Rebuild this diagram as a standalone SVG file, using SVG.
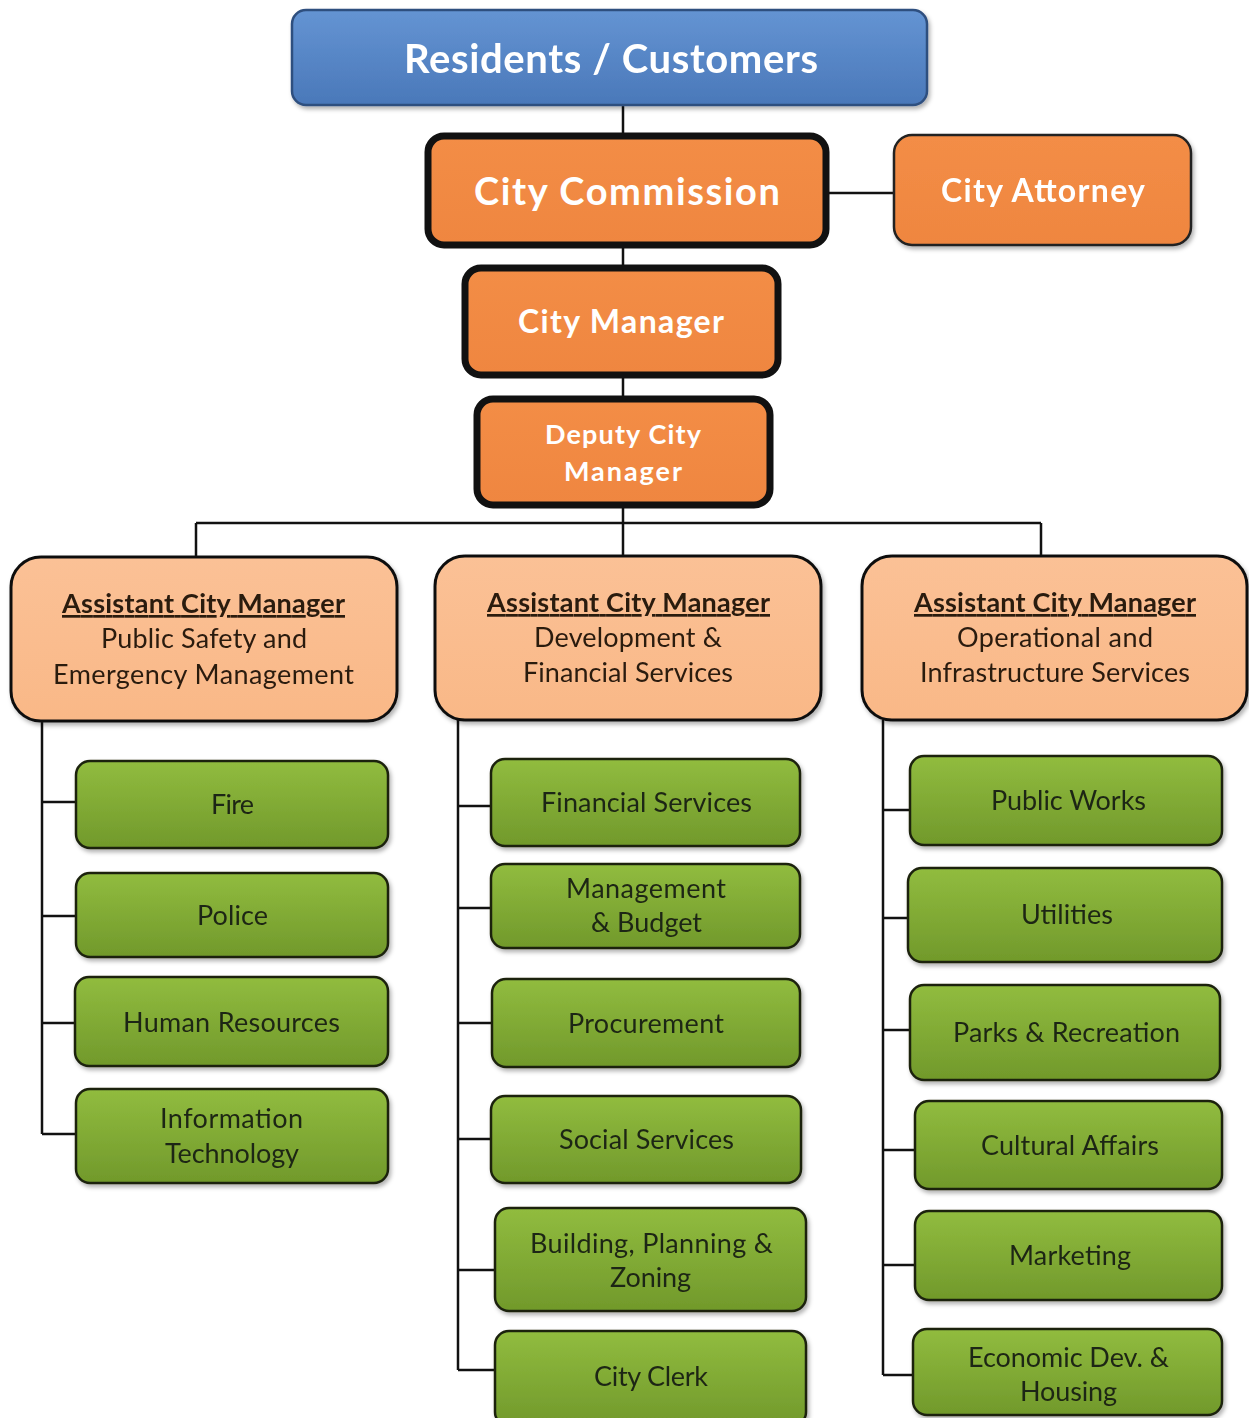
<svg xmlns="http://www.w3.org/2000/svg" width="1249" height="1418" viewBox="0 0 1249 1418">
<defs>
<linearGradient id="gBlue" x1="0" y1="0" x2="0" y2="1"><stop offset="0" stop-color="#6494d3"/><stop offset="1" stop-color="#4a78b9"/></linearGradient>
<linearGradient id="gOrange" x1="0" y1="0" x2="0" y2="1"><stop offset="0" stop-color="#f38d46"/><stop offset="1" stop-color="#ef8640"/></linearGradient>
<linearGradient id="gPeach" x1="0" y1="0" x2="0" y2="1"><stop offset="0" stop-color="#fbc196"/><stop offset="1" stop-color="#f9b887"/></linearGradient>
<linearGradient id="gGreen" x1="0" y1="0" x2="0" y2="1"><stop offset="0" stop-color="#91bc3f"/><stop offset="1" stop-color="#71992b"/></linearGradient>
<filter id="sh" x="-5%" y="-5%" width="115%" height="125%"><feDropShadow dx="2" dy="3" stdDeviation="2" flood-color="#000" flood-opacity="0.3"/></filter>
</defs>
<style>
.blue{fill:url(#gBlue);stroke:#2f4f7f;stroke-width:2.5}
.ob{fill:url(#gOrange);stroke:#111;stroke-width:7}
.ot{fill:url(#gOrange);stroke:#222;stroke-width:2.5}
.peach{fill:url(#gPeach);stroke:#111;stroke-width:3}
.green{fill:url(#gGreen);stroke:#1d2410;stroke-width:2.5}
.wt{font-family:Lato,"Open Sans",sans-serif;font-weight:bold;fill:#fff}
.hd{font-family:Lato,"Open Sans",sans-serif;font-weight:bold;fill:#2a1a10;font-size:27px;text-decoration:underline}
.pt{font-family:Lato,"Open Sans",sans-serif;fill:#2a1a10;font-size:27px}
.gt{font-family:Lato,"Open Sans",sans-serif;fill:#1f2612;font-size:27px}
.ln{fill:none;stroke:#111;stroke-width:2.5}
</style>
<rect width="1249" height="1418" fill="#fff"/>
<g id="connectors">
<path class="ln" d="M623 105V133M829 193H894M623 248V265M623 378V396M623 508V556M196 523H1041M196 523V558M1041 523V556"/>
<path class="ln" d="M42 721V1134M42 802H76M42 916H76M42 1023H76M42 1134H76"/>
<path class="ln" d="M458 720V1370M458 806H491M458 908H491M458 1023H491M458 1139H491M458 1270H495M458 1370H495"/>
<path class="ln" d="M883 720V1375M883 810H910M883 918H908M883 1030H910M883 1150H915M883 1265H915M883 1375H913"/>
</g>
<g id="residents" filter="url(#sh)"><rect class="blue" x="292" y="10" width="635" height="95" rx="14"/>
<text class="wt" x="404" y="73" font-size="40" textLength="414">Residents / Customers</text></g>
<g id="city-commission"><rect class="ob" x="428" y="136" width="398" height="109" rx="16"/>
<text class="wt" x="474" y="205" font-size="38" textLength="306">City Commission</text></g>
<g id="city-attorney" filter="url(#sh)"><rect class="ot" x="894" y="135" width="297" height="110" rx="18"/>
<text class="wt" x="941" y="202" font-size="32" textLength="204">City Attorney</text></g>
<g id="city-manager"><rect class="ob" x="465" y="268" width="313" height="107" rx="16"/>
<text class="wt" x="518" y="333" font-size="32" textLength="206">City Manager</text></g>
<g id="deputy-city-manager"><rect class="ob" x="477" y="399" width="293" height="106" rx="16"/>
<text class="wt" x="545" y="444" font-size="27" textLength="156">Deputy City</text>
<text class="wt" x="564" y="481" font-size="27" textLength="118">Manager</text></g>
<g id="acm-public-safety" filter="url(#sh)"><rect class="peach" x="11" y="557" width="386" height="164" rx="30"/>
<text class="hd" x="62" y="613" textLength="283">Assistant City Manager</text>
<text class="pt" x="101" y="648" textLength="206">Public Safety and</text>
<text class="pt" x="53" y="684" textLength="301">Emergency Management</text></g>
<g id="acm-development" filter="url(#sh)"><rect class="peach" x="435" y="556" width="386" height="164" rx="30"/>
<text class="hd" x="487" y="612" textLength="283">Assistant City Manager</text>
<text class="pt" x="534" y="647" textLength="188">Development &amp;</text>
<text class="pt" x="523" y="682" textLength="210">Financial Services</text></g>
<g id="acm-operational" filter="url(#sh)"><rect class="peach" x="862" y="556" width="385" height="164" rx="30"/>
<text class="hd" x="914" y="612" textLength="282">Assistant City Manager</text>
<text class="pt" x="957" y="647" textLength="196">Operational and</text>
<text class="pt" x="920" y="682" textLength="270">Infrastructure Services</text></g>
<g id="fire" filter="url(#sh)"><rect class="green" x="76" y="761" width="312" height="87" rx="14"/><text class="gt" x="211" y="814" textLength="43">Fire</text></g>
<g id="police" filter="url(#sh)"><rect class="green" x="76" y="873" width="312" height="84" rx="14"/><text class="gt" x="197" y="925" textLength="71">Police</text></g>
<g id="human-resources" filter="url(#sh)"><rect class="green" x="75" y="977" width="313" height="89" rx="14"/><text class="gt" x="123" y="1032" textLength="217">Human Resources</text></g>
<g id="information-technology" filter="url(#sh)"><rect class="green" x="76" y="1089" width="312" height="94" rx="14"/><text class="gt" x="160" y="1128" textLength="143">Information</text><text class="gt" x="165" y="1163" textLength="134">Technology</text></g>
<g id="financial-services" filter="url(#sh)"><rect class="green" x="491" y="759" width="309" height="87" rx="14"/><text class="gt" x="541" y="812" textLength="211">Financial Services</text></g>
<g id="management-budget" filter="url(#sh)"><rect class="green" x="491" y="864" width="309" height="84" rx="14"/><text class="gt" x="566" y="898" textLength="160">Management</text><text class="gt" x="591" y="932" textLength="111">&amp; Budget</text></g>
<g id="procurement" filter="url(#sh)"><rect class="green" x="492" y="979" width="308" height="88" rx="14"/><text class="gt" x="568" y="1033" textLength="156">Procurement</text></g>
<g id="social-services" filter="url(#sh)"><rect class="green" x="491" y="1096" width="310" height="87" rx="14"/><text class="gt" x="559" y="1149" textLength="175">Social Services</text></g>
<g id="building-planning-zoning" filter="url(#sh)"><rect class="green" x="495" y="1208" width="311" height="103" rx="14"/><text class="gt" x="530" y="1253" textLength="243">Building, Planning &amp;</text><text class="gt" x="610" y="1287" textLength="81">Zoning</text></g>
<g id="city-clerk" filter="url(#sh)"><rect class="green" x="495" y="1331" width="311" height="95" rx="14"/><text class="gt" x="594" y="1386" textLength="114">City Clerk</text></g>
<g id="public-works" filter="url(#sh)"><rect class="green" x="910" y="756" width="312" height="89" rx="14"/><text class="gt" x="991" y="810" textLength="155">Public Works</text></g>
<g id="utilities" filter="url(#sh)"><rect class="green" x="908" y="868" width="314" height="94" rx="14"/><text class="gt" x="1021" y="924" textLength="92">Utilities</text></g>
<g id="parks-recreation" filter="url(#sh)"><rect class="green" x="910" y="985" width="310" height="95" rx="14"/><text class="gt" x="953" y="1042" textLength="227">Parks &amp; Recreation</text></g>
<g id="cultural-affairs" filter="url(#sh)"><rect class="green" x="915" y="1101" width="307" height="88" rx="14"/><text class="gt" x="981" y="1155" textLength="178">Cultural Affairs</text></g>
<g id="marketing" filter="url(#sh)"><rect class="green" x="915" y="1211" width="307" height="89" rx="14"/><text class="gt" x="1009" y="1265" textLength="122">Marketing</text></g>
<g id="economic-dev-housing" filter="url(#sh)"><rect class="green" x="913" y="1329" width="309" height="86" rx="14"/><text class="gt" x="968" y="1367" textLength="201">Economic Dev. &amp;</text><text class="gt" x="1020" y="1401" textLength="97">Housing</text></g>
</svg>
